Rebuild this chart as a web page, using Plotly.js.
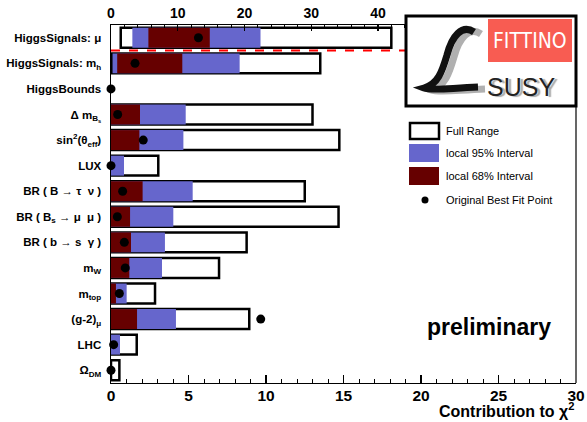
<!DOCTYPE html>
<html>
<head>
<meta charset="utf-8">
<script src="https://cdn.plot.ly/plotly-3.0.1.min.js"></script>
<style>html,body{margin:0;padding:0;background:#fff;}#chart{width:587px;height:422px;}</style>
</head>
<body>
<div id="chart"></div>
<script>
// Top row (HiggsSignals: mu) is read on the top axis (0..44)
const topCategory = ["HiggsSignals: μ"];
const topFullLo = [1.46], topFullHi = [42.0];
const topBlueLo = [3.2], topBlueHi = [22.4];
const topRedLo = [5.6], topRedHi = [14.8];
const topBest = [13.1];

// Remaining rows are read on the bottom axis (0..30)
const categories = [
  "HiggsSignals: m<sub>h</sub>",
  "HiggsBounds",
  "Δ m<sub>B<sub>s</sub></sub>",
  "sin<sup>2</sup>(θ<sub>eff</sub>)",
  "LUX",
  "BR ( B → τ  ν )",
  "BR ( B<sub>s</sub> → μ  μ )",
  "BR ( b → s  γ )",
  "m<sub>W</sub>",
  "m<sub>top</sub>",
  "(g-2)<sub>μ</sub>",
  "LHC",
  "Ω<sub>DM</sub>"
];
const fullLo = [0.06, null, 0, 0, 0, 0, 0, 0, 0, 0, 0, 0, 0];
const fullHi = [13.5, null, 13.0, 14.73, 3.05, 12.5, 14.68, 8.75, 6.97, 2.84, 8.92, 1.66, 0.54];
const blueLo = [0.1, null, 0, 0, 0, 0, 0, 0, 0, 0, 0, 0, null];
const blueHi = [8.3, null, 4.82, 4.67, 0.84, 5.27, 4.02, 3.48, 3.29, 1.01, 4.19, 0.58, null];
const redLo  = [0.4, null, 0, 0, null, 0, 0, 0, 0, 0, 0, null, null];
const redHi  = [4.6, null, 1.87, 1.83, null, 2.04, 1.23, 1.29, 1.18, 0.32, 1.68, null, null];
const best   = [1.55, 0, 0.43, 2.08, 0, 0.75, 0.41, 0.86, 0.92, 0.54, 9.66, 0.17, 0];

const allCategories = topCategory.concat(categories);

const BLUE = "#6666cc", RED = "#660000";
const FONT = "Liberation Sans, Arial, Helvetica, sans-serif";
const BW = 0.78;

function span(lo, hi) { return hi.map((h, i) => (h == null || lo[i] == null) ? null : h - lo[i]); }

function barSet(cats, lo, hi, color, xa, isFull) {
  return {
    type: "bar", orientation: "h", y: cats, base: lo, x: span(lo, hi),
    xaxis: xa, yaxis: "y", width: BW, showlegend: false, hoverinfo: "skip",
    marker: isFull ? {color: "white", line: {color: "black", width: 2.5}}
                   : {color: color, line: {width: 0}}
  };
}
function dotSet(cats, vals, xa) {
  return {
    type: "scatter", mode: "markers", y: cats, x: vals, xaxis: xa, yaxis: "y",
    marker: {color: "black", size: 9}, cliponaxis: false, showlegend: false, hoverinfo: "skip"
  };
}

const data = [
  barSet(categories, fullLo, fullHi, null, "x", true),
  barSet(categories, blueLo, blueHi, BLUE, "x", false),
  barSet(categories, redLo, redHi, RED, "x", false),
  dotSet(categories, best, "x"),
  barSet(topCategory, topFullLo, topFullHi, null, "x2", true),
  barSet(topCategory, topBlueLo, topBlueHi, BLUE, "x2", false),
  barSet(topCategory, topRedLo, topRedHi, RED, "x2", false),
  dotSet(topCategory, topBest, "x2")
];

// pixel -> paper helpers (plot area: x 111..576, y 25..383)
const px = v => (v - 111) / 465;
const py = v => (383 - v) / 358;
function pathFrom(pts) {
  return pts.map(p => p[0] + " " + p.slice(1).map((v, i) => (i % 2 === 0 ? px(v) : py(v)).toFixed(4)).join(",")).join(" ");
}
function scriptL(dx, dy) {
  return pathFrom([
    ["M", 474 + dx, 32 + dy],
    ["C", 462 + dx, 24 + dy, 452 + dx, 36 + dy, 447 + dx, 55 + dy],
    ["C", 442 + dx, 72 + dy, 438 + dx, 84 + dy, 424 + dx, 88 + dy],
    ["C", 432 + dx, 91 + dy, 450 + dx, 88 + dy, 478 + dx, 87 + dy]
  ]);
}

const shapes = [
  // red dashed separator
  {type: "line", xref: "paper", yref: "y", x0: 0, x1: px(405), y0: 0.5, y1: 0.5,
   line: {color: "#ff0000", width: 2, dash: "dash"}},
  // right frame (below logo)
  {type: "line", xref: "paper", yref: "paper", x0: 1, x1: 1, y0: 0, y1: py(107),
   line: {color: "black", width: 1.2}},
  // logo box
  {type: "rect", xref: "paper", yref: "paper", x0: px(406), x1: px(576), y0: py(106), y1: py(16),
   fillcolor: "white", line: {color: "black", width: 3}, layer: "above"},
  {type: "rect", xref: "paper", yref: "paper", x0: px(488), x1: px(572), y0: py(62), y1: py(19),
   fillcolor: "#f85c52", line: {width: 0}, layer: "above"},
  {type: "path", xref: "paper", yref: "paper", path: scriptL(7, 2),
   line: {color: "#b0b0b0", width: 7}, layer: "above"},
  {type: "path", xref: "paper", yref: "paper", path: scriptL(0, 0),
   line: {color: "#111111", width: 7}, layer: "above"},
  // legend swatches
  {type: "rect", xref: "paper", yref: "paper", x0: px(410), x1: px(439), y0: py(139), y1: py(123),
   fillcolor: "white", line: {color: "black", width: 2.5}},
  {type: "rect", xref: "paper", yref: "paper", x0: px(409), x1: px(439), y0: py(162), y1: py(144),
   fillcolor: BLUE, line: {width: 0}},
  {type: "rect", xref: "paper", yref: "paper", x0: px(409), x1: px(439), y0: py(185), y1: py(167),
   fillcolor: RED, line: {width: 0}},
  {type: "circle", xref: "paper", yref: "paper", x0: px(421.5), x1: px(428.5), y0: py(203.5), y1: py(196.5),
   fillcolor: "black", line: {width: 0}}
];

const legendTexts = ["Full Range", "local 95% Interval", "local 68% Interval", "Original Best Fit Point"];
const legendY = [131, 153, 176, 200];

const annotations = legendTexts.map((t, i) => ({
  text: t, xref: "paper", yref: "paper", x: px(444), y: py(legendY[i]),
  xanchor: "left", yanchor: "middle", showarrow: false,
  font: {family: FONT, size: 11, color: "black"}
})).concat([
  {text: "preliminary", xref: "paper", yref: "paper", x: px(489), y: py(327),
   xanchor: "center", yanchor: "middle", showarrow: false,
   font: {family: FONT, size: 23, color: "black", weight: "bold"}},
  {text: "Contribution to χ<sup>2</sup>", xref: "paper", yref: "paper", x: 1, y: py(410),
   xanchor: "right", yanchor: "middle", showarrow: false,
   font: {family: FONT, size: 16, color: "black", weight: "bold"}},
  {text: "FITTINO", xref: "paper", yref: "paper", x: px(530), y: py(41),
   xanchor: "center", yanchor: "middle", showarrow: false,
   font: {family: "DejaVu Sans Condensed, Liberation Sans Narrow, Liberation Sans, Arial", size: 21, color: "white"}},
  {text: "SUSY", xref: "paper", yref: "paper", x: px(521), y: py(87),
   xanchor: "center", yanchor: "middle", showarrow: false,
   font: {family: FONT, size: 25, color: "#222222", shadow: "3px 1px 1px #aaaaaa"}}
]);

const layout = {
  width: 587, height: 422,
  margin: {l: 111, r: 11, t: 25, b: 39, pad: 0},
  paper_bgcolor: "white", plot_bgcolor: "rgba(0,0,0,0)",
  barmode: "overlay", showlegend: false,
  font: {family: FONT, color: "black"},
  xaxis: {
    range: [0, 30], domain: [0, 1], anchor: "y", side: "bottom",
    showline: true, linecolor: "black", linewidth: 1.2,
    ticks: "inside", ticklen: 8, tickwidth: 1.2, tickcolor: "black",
    tick0: 0, dtick: 5, showgrid: false, zeroline: false, ticklabelstandoff: -2,
    minor: {dtick: 1, ticks: "inside", ticklen: 4, tickwidth: 1, tickcolor: "black", showgrid: false},
    tickfont: {family: FONT, size: 15.5, weight: "bold", color: "black"}
  },
  xaxis2: {
    range: [0, 44.2], domain: [0, px(406)], anchor: "y", side: "top",
    showline: true, linecolor: "black", linewidth: 1.2,
    ticks: "inside", ticklen: 6, tickwidth: 1.2, tickcolor: "black",
    tick0: 0, dtick: 10, showgrid: false, zeroline: false,
    minor: {dtick: 2, ticks: "inside", ticklen: 3, tickwidth: 1, tickcolor: "black", showgrid: false},
    tickfont: {family: FONT, size: 14, weight: "bold", color: "black"}
  },
  yaxis: {
    type: "category", categoryorder: "array", categoryarray: allCategories,
    range: [13.5, -0.5], domain: [0, 1], anchor: "x",
    showline: true, linecolor: "black", linewidth: 1.5,
    ticks: "", showgrid: false, zeroline: false, ticklabelstandoff: 6,
    tickfont: {family: FONT, size: 11.5, weight: "bold", color: "black"}
  },
  shapes: shapes,
  annotations: annotations
};

Plotly.newPlot("chart", data, layout, {displayModeBar: false, staticPlot: true});
</script>
</body>
</html>
